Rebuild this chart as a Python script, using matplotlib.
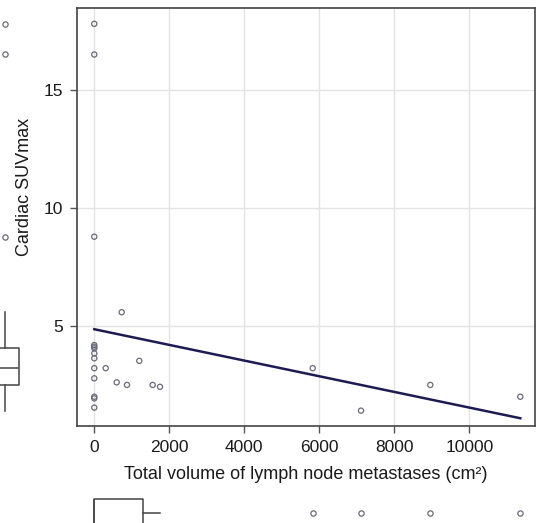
import matplotlib
matplotlib.use('Agg')
import matplotlib.pyplot as plt
import numpy as np

plt.rcParams['font.family'] = ['Liberation Sans', 'DejaVu Sans']

# data (x = lymph node volume, y = cardiac SUVmax)
lymph_volume = [0, 0, 0, 0, 0, 0, 0, 0, 0, 0, 0, 0, 0,
                304, 597, 731, 872, 1200, 1557, 1752,
                5824, 7112, 8960, 11360]
cardiac_suv = [17.8, 16.5, 8.78, 4.19, 4.12, 4.05, 3.84, 3.63, 3.21, 2.78, 2.0, 1.93, 1.54,
               3.21, 2.61, 5.58, 2.5, 3.52, 2.5, 2.42,
               3.21, 1.41, 2.5, 2.0]

fit_intercept = 4.86
fit_slope = -0.000332

x_ticks = [0, 2000, 4000, 6000, 8000, 10000]
y_ticks = [5, 10, 15]

W, H = 536, 523
fig = plt.figure(figsize=(W / 100, H / 100), dpi=100)

def px_axes(x0, y0, x1, y1, **kw):
    # pixel box (top-left origin) -> figure fraction axes
    return fig.add_axes([x0 / W, 1 - y1 / H, (x1 - x0) / W, (y1 - y0) / H], **kw)

ax = px_axes(77, 8, 535, 426)
ax.set_xlim(-461, 11752)
ax.set_ylim(0.76, 18.47)

ax.set_xticks(x_ticks)
ax.set_yticks(y_ticks)
ax.grid(True, color='#e3e3e3', linewidth=1.0)
ax.set_axisbelow(True)
for s in ax.spines.values():
    s.set_color('#444444')
    s.set_linewidth(1.2)
ax.tick_params(direction='out', length=5, width=1, color='#555555',
               labelsize=12.5, labelcolor='#1a1a1a', pad=5)

edge = '#6a6a7a'
ax.scatter(lymph_volume, cardiac_suv, s=14, facecolors='none', edgecolors=edge,
           linewidths=0.9, zorder=3)

xf = np.array([min(lymph_volume), max(lymph_volume)])
ax.plot(xf, fit_intercept + fit_slope * xf, color='#1c1c52', linewidth=1.8, zorder=4)

ax.set_xlabel('Total volume of lymph node metastases (cm²)', fontsize=13, color='#1a1a1a',
              labelpad=8)
ax.set_ylabel('Cardiac SUVmax', fontsize=13, color='#1a1a1a')
ax.yaxis.set_label_coords(-0.095, 0.572)

box_kw = dict(showcaps=False, patch_artist=False,
              boxprops=dict(color='#444444', linewidth=1.1),
              whiskerprops=dict(color='#444444', linewidth=1.1),
              medianprops=dict(color='#444444', linewidth=1.1),
              flierprops=dict(marker='o', markersize=3.8, markerfacecolor='none',
                              markeredgecolor=edge, markeredgewidth=0.9))

# left marginal boxplot (cut off by figure edge)
axl = px_axes(-30, 8, 40, 426, sharey=ax)
axl.boxplot(cardiac_suv, positions=[0], widths=0.8, **box_kw)
axl.set_xlim(-1, 1)
axl.set_ylim(0.76, 18.47)
axl.axis('off')

# bottom marginal boxplot (cut off by figure edge)
axb = px_axes(77, 480, 535, 545, sharex=ax)
axb.boxplot(lymph_volume, positions=[0], widths=0.82, vert=False, **box_kw)
axb.set_ylim(-1, 1)
axb.set_xlim(-461, 11752)
axb.axis('off')

fig.savefig('out.png', dpi=100, facecolor='white')
